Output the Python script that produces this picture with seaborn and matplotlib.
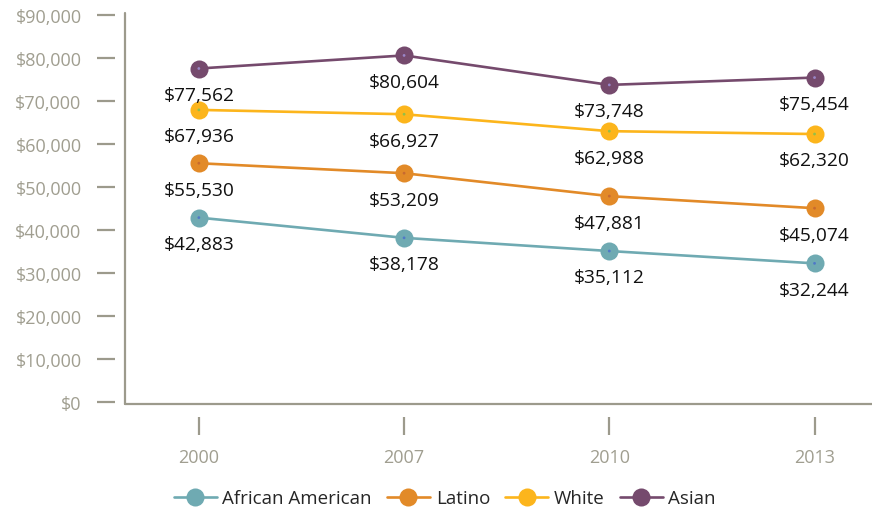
import pandas as pd
import matplotlib.pyplot as plt
import seaborn as sns

# Median household income by race/ethnicity
years = ['2000', '2007', '2010', '2013']
african_american = [42883, 38178, 35112, 32244]
latino = [55530, 53209, 47881, 45074]
white = [67936, 66927, 62988, 62320]
asian = [77562, 80604, 73748, 75454]

groups = ['African American', 'Latino', 'White', 'Asian']
colors = ['#6faab2', '#e28a28', '#fcb51c', '#754a6d']
dot_colors = ['#4f78c8', '#c86a30', '#8fbf4a', '#9a86c8']

rows = []
for g, vals in zip(groups, [african_american, latino, white, asian]):
    for i, (yr, v) in enumerate(zip(years, vals)):
        rows.append({'group': g, 'pos': i, 'year': yr, 'income': v})
df = pd.DataFrame(rows)

sns.set_style('white')
plt.rcParams['font.family'] = ['Open Sans', 'DejaVu Sans']

fig = plt.figure(figsize=(8.72, 5.10), dpi=100)
ax = fig.add_axes([0.1433, 0.2059, 0.8567, 0.7666])

pal = dict(zip(groups, colors))
sns.lineplot(data=df, x='pos', y='income', hue='group', hue_order=groups,
             palette=pal, marker='o', markersize=13, markeredgewidth=0,
             linewidth=1.9, ax=ax, legend=True)
# small centre dots
sns.scatterplot(data=df, x='pos', y='income', hue='group', hue_order=groups,
                palette=dict(zip(groups, dot_colors)), s=4, linewidth=0,
                ax=ax, legend=False, zorder=5)

for _, r in df.iterrows():
    ax.annotate(f"${r['income']:,}", (r['pos'], r['income']),
                xytext=(0, -19), textcoords='offset points',
                ha='center', va='center', fontsize=13.8, color='#111111')

ax.set_xlim(-0.36, 3.28)
ax.set_ylim(-465, 90465)
ax.set_xticks(range(len(years)))
ax.set_xticklabels(years)
ax.set_yticks(range(0, 90001, 10000))
ax.set_yticklabels([f"${v:,}" for v in range(0, 90001, 10000)])
ax.set_xlabel('')
ax.set_ylabel('')

grey = '#9c9a8c'
for side in ['top', 'right']:
    ax.spines[side].set_visible(False)
ax.spines['left'].set_position(('outward', 7.2))
ax.spines['bottom'].set_position(('outward', 9.4))
ax.spines['left'].set_color('none')
ax.spines['bottom'].set_color('none')
ax.plot([0, 0], [0, 1], transform=ax.transAxes, color=grey, lw=1.6, clip_on=False)
ax.plot([0, 1], [0, 0], transform=ax.transAxes, color=grey, lw=1.6, clip_on=False)

ax.tick_params(axis='both', which='major', direction='out', length=13, width=1.6,
               color=grey, labelcolor='#a09e90', labelsize=13)
ax.tick_params(axis='y', left=True, pad=11)
ax.tick_params(axis='x', bottom=True, pad=9)

handles, labels = ax.get_legend_handles_labels()
ax.legend(handles, labels, loc='lower center', bbox_to_anchor=(0.51, -0.03),
          bbox_transform=fig.transFigure, ncol=4, frameon=False, fontsize=13.5,
          handlelength=2.3, handletextpad=0.3, columnspacing=0.8)

fig.savefig('out.png', dpi=100)
